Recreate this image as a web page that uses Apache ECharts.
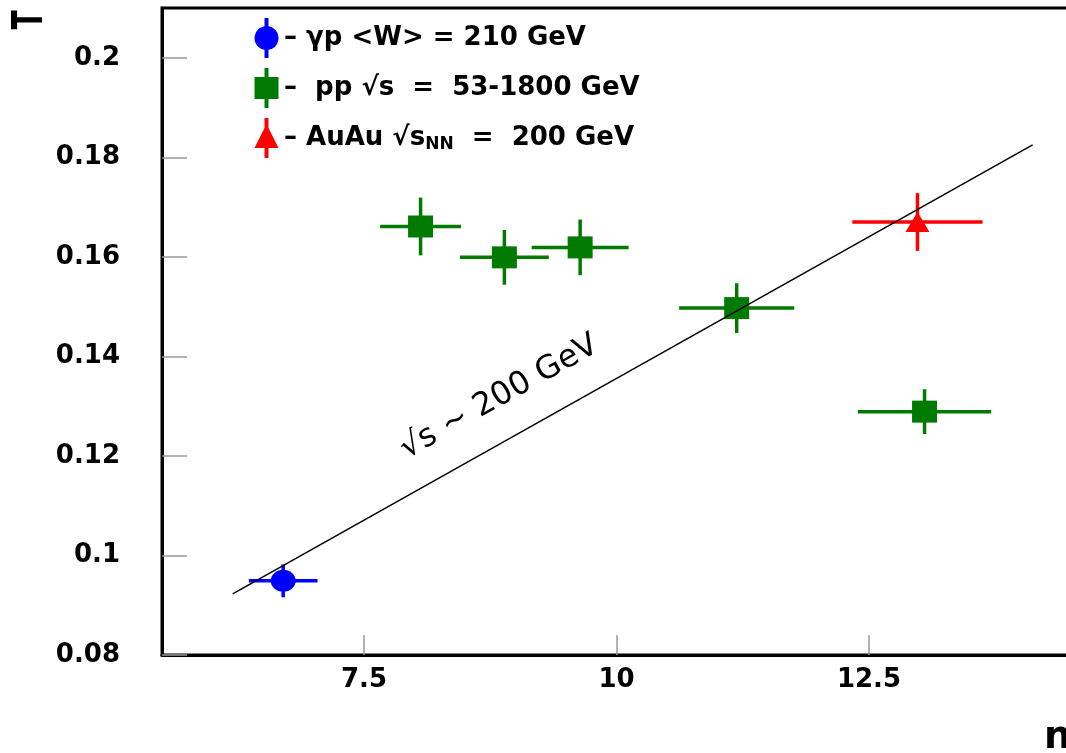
<!DOCTYPE html>
<html>
<head>
<meta charset="utf-8">
<script src="https://cdn.jsdelivr.net/npm/echarts@6/dist/echarts.min.js"></script>
<style>html,body{margin:0;padding:0;background:#fff;overflow:hidden}#c{width:1066px;height:753px}</style>
</head>
<body>
<div id="c"></div>
<script>
// ---- data (x = n, y = T, xerr, yerr) ----
const gammaP = [[6.70, 0.0949, 0.34, 0.0033]];
const ppData = [
  [8.06, 0.1661, 0.40, 0.0058],
  [8.89, 0.1599, 0.44, 0.0055],
  [9.64, 0.1619, 0.48, 0.0056],
  [11.19, 0.1497, 0.57, 0.0050],
  [13.05, 0.1289, 0.66, 0.0045]
];
const auauData = [[12.98, 0.1670, 0.645, 0.0058]];
const trendLine = [[6.20, 0.0923], [14.12, 0.1825]];
const xTicks = [7.5, 10, 12.5];
const yTicks = [0.08, 0.1, 0.12, 0.14, 0.16, 0.18, 0.2];
const legendLabels = {
  'γp': '– γp <W> = 210 GeV',
  'pp': '–  pp √s  =  53-1800 GeV',
  'AuAu': '– AuAu √s{sub|NN}  =  200 GeV'
};
const annotation = '√s ~ 200 GeV';
const annotationAt = [8.84, 0.1318];

const BLUE = '#0000ff', GREEN = '#007a00', RED = '#ff0000';
const FONT = 'DejaVu Sans';

function errBars(color) {
  return function (params, api) {
    const x = api.value(0), y = api.value(1), ex = api.value(2), ey = api.value(3);
    const l = api.coord([x - ex, y]), r = api.coord([x + ex, y]);
    const t = api.coord([x, y + ey]), b = api.coord([x, y - ey]);
    const st = { stroke: color, lineWidth: 3.5 };
    return { type: 'group', children: [
      { type: 'line', shape: { x1: l[0], y1: l[1], x2: r[0], y2: r[1] }, style: st },
      { type: 'line', shape: { x1: t[0], y1: t[1], x2: b[0], y2: b[1] }, style: st }
    ]};
  };
}

const iconCircle = 'path://M10.5,0H14.5V8.17A12,12 0 0 1 14.5,31.83V40H10.5V31.83A12,12 0 0 1 10.5,8.17Z';
const iconSquare = 'path://M10.5,0H14.5V9H24.5V31H14.5V40H10.5V31H0.5V9H10.5Z';
const iconTri = 'path://M10.5,0H14.5V10L24.5,30H14.5V40H10.5V30H0.5L10.5,10Z';

const chart = echarts.init(document.getElementById('c'), null, { renderer: 'canvas' });
const option = {
  animation: false,
  backgroundColor: '#fff',
  grid: { left: 162, top: 8, right: -5, bottom: 98, show: true, borderColor: '#000', borderWidth: 3,
    backgroundColor: 'transparent', containLabel: false, outerBoundsMode: 'none' },
  xAxis: {
    type: 'value', min: 5.5, max: 14.5,
    axisLine: { show: true, lineStyle: { color: '#000', width: 3 } },
    axisTick: { show: true, inside: true, length: 20, customValues: xTicks, lineStyle: { color: '#999', width: 1.5 } },
    axisLabel: { customValues: xTicks, margin: 12, fontFamily: FONT, fontWeight: 'bold', fontSize: 26, color: '#000' },
    splitLine: { show: false }
  },
  yAxis: {
    type: 'value', min: 0.08, max: 0.21,
    axisLine: { show: true, lineStyle: { color: '#000', width: 3 } },
    axisTick: { show: true, inside: true, length: 25, customValues: yTicks, lineStyle: { color: '#999', width: 1.5 } },
    axisLabel: { customValues: yTicks, margin: 42, fontFamily: FONT, fontWeight: 'bold', fontSize: 26, color: '#000' },
    splitLine: { show: false }
  },
  legend: {
    orient: 'vertical', left: 249.5, top: 13, itemWidth: 25, itemHeight: 40, itemGap: 10,
    selectedMode: false,
    data: [
      { name: 'γp', icon: iconCircle, itemStyle: { color: BLUE } },
      { name: 'pp', icon: iconSquare, itemStyle: { color: GREEN } },
      { name: 'AuAu', icon: iconTri, itemStyle: { color: RED } }
    ],
    formatter: n => legendLabels[n],
    textStyle: { fontFamily: FONT, fontWeight: 'bold', fontSize: 26, color: '#000',
      rich: { sub: { fontFamily: FONT, fontWeight: 'bold', fontSize: 17, color: '#000', verticalAlign: 'bottom', padding: [14, 0, 0, 0] } } }
  },
  series: [
    { name: 'γp', type: 'custom', renderItem: errBars(BLUE), data: gammaP, z: 2, itemStyle: { color: BLUE } },
    { name: 'pp', type: 'custom', renderItem: errBars(GREEN), data: ppData, z: 2, itemStyle: { color: GREEN } },
    { name: 'AuAu', type: 'custom', renderItem: errBars(RED), data: auauData, z: 2, itemStyle: { color: RED } },
    { name: 'γp', type: 'scatter', data: gammaP.map(d => [d[0], d[1]]), symbol: 'circle', symbolSize: [25, 22], itemStyle: { color: BLUE, opacity: 1 }, z: 3 },
    { name: 'pp', type: 'scatter', data: ppData.map(d => [d[0], d[1]]), symbol: 'rect', symbolSize: [25, 22], itemStyle: { color: GREEN, opacity: 1 }, z: 3 },
    { name: 'AuAu', type: 'scatter', data: auauData.map(d => [d[0], d[1]]), symbol: 'triangle', symbolSize: [24, 20], itemStyle: { color: RED, opacity: 1 }, z: 3 },
    { name: 'trend', type: 'line', data: trendLine, symbol: 'none', lineStyle: { color: '#000', width: 1.5 }, z: 4 }
  ]
};
chart.setOption(option);

const p = chart.convertToPixel({ gridIndex: 0 }, annotationAt);
chart.setOption({
  graphic: [
    { type: 'text', x: p[0], y: p[1], rotation: Math.atan(0.5606), z: 10,
      style: { text: annotation, fontFamily: FONT, fontSize: 32, fill: '#000', align: 'center', verticalAlign: 'middle' } },
    { type: 'text', x: 10, y: 20, rotation: Math.PI / 2, scaleY: 1.5, z: 10,
      style: { text: 'T', fontFamily: FONT, fontWeight: 'bold', fontSize: 28, fill: '#000', align: 'center', verticalAlign: 'top' } },
    { type: 'text', x: 1044, y: 738, z: 10,
      style: { text: 'n', fontFamily: FONT, fontWeight: 'bold', fontSize: 38, fill: '#000', align: 'left', verticalAlign: 'middle' } }
  ]
});
</script>
</body>
</html>
